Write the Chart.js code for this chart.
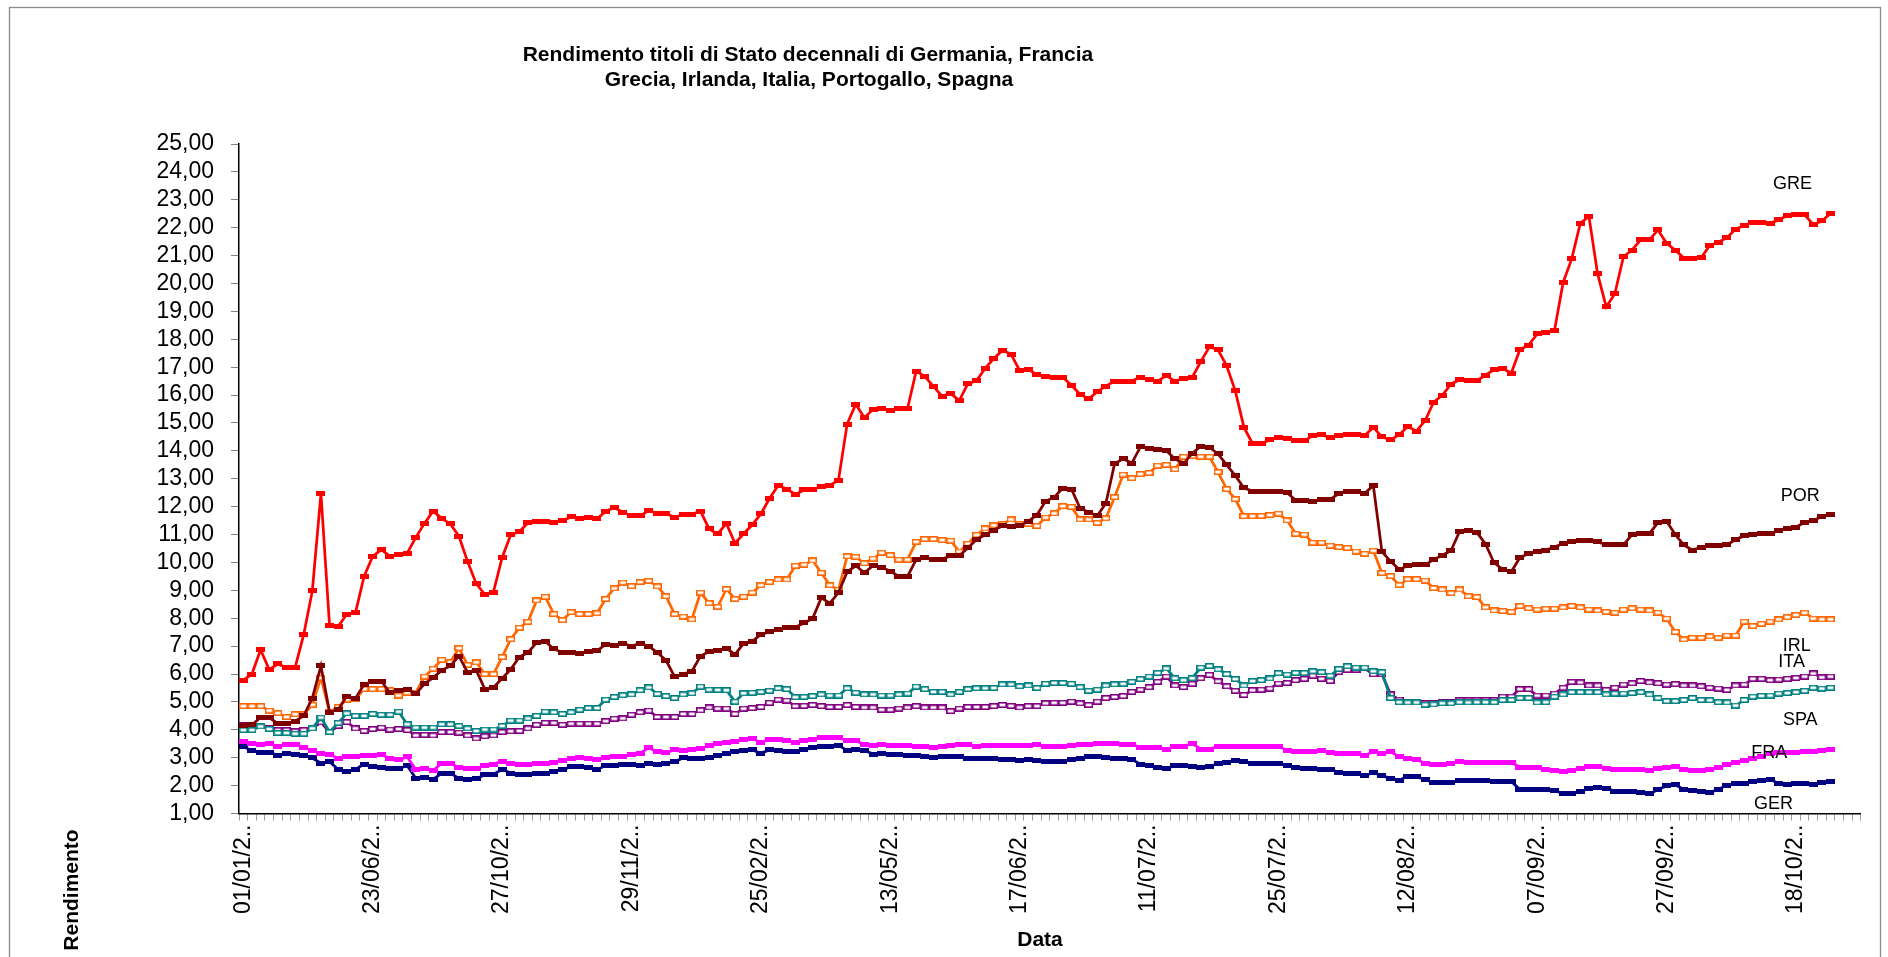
<!DOCTYPE html>
<html>
<head>
<meta charset="utf-8">
<title>Rendimento titoli di Stato decennali</title>
<script src="https://cdn.jsdelivr.net/npm/chart.js@4.4.1/dist/chart.umd.min.js"></script>
<style>
  html, body { margin: 0; padding: 0; background: #fff; }
  #chart-wrapper { width: 1888px; height: 957px; }
</style>
</head>
<body>
<div id="chart-wrapper"><canvas id="myChart" width="1888" height="957"></canvas></div>
<script>
// etichette dell'asse delle date (una ogni 15 osservazioni)
const tickLabels = ["01/01/2..", "23/06/2..", "27/10/2..", "29/11/2..", "25/02/2..", "13/05/2..",
  "17/06/2..", "11/07/2..", "25/07/2..", "12/08/2..", "07/09/2..", "27/09/2..", "18/10/2.."];
const labelStep = 15;
const categoryCount = 188;

const titleLines = ["Rendimento titoli di Stato decennali di Germania, Francia",
  "Grecia, Irlanda, Italia, Portogallo, Spagna"];

// rendimenti
const gre = [5.78, 6.0, 6.87, 6.16, 6.36, 6.23, 6.23, 7.41, 8.98, 12.47,
  7.73, 7.70, 8.15, 8.19, 9.5, 10.22, 10.46, 10.22, 10.3, 10.33,
  10.9, 11.4, 11.84, 11.58, 11.38, 10.94, 10.03, 9.24, 8.85, 8.94,
  10.17, 10.99, 11.1, 11.42, 11.48, 11.46, 11.42, 11.5, 11.63, 11.58,
  11.61, 11.56, 11.83, 11.97, 11.8, 11.67, 11.67, 11.86, 11.76, 11.76,
  11.61, 11.73, 11.73, 11.84, 11.2, 11.02, 11.4, 10.69, 11.03, 11.35,
  11.74, 12.29, 12.76, 12.63, 12.44, 12.6, 12.6, 12.73, 12.76, 12.95,
  14.96, 15.67, 15.19, 15.49, 15.51, 15.45, 15.51, 15.51, 16.86, 16.67,
  16.31, 15.96, 16.06, 15.8, 16.41, 16.51, 16.96, 17.31, 17.6, 17.47,
  16.88, 16.92, 16.73, 16.67, 16.64, 16.64, 16.35, 16.03, 15.86, 16.12,
  16.32, 16.5, 16.5, 16.5, 16.64, 16.57, 16.5, 16.7, 16.5, 16.6,
  16.63, 17.2, 17.73, 17.62, 17.05, 16.15, 14.85, 14.26, 14.26, 14.39,
  14.47, 14.44, 14.36, 14.36, 14.55, 14.58, 14.47, 14.55, 14.6, 14.6,
  14.55, 14.84, 14.5, 14.39, 14.58, 14.87, 14.71, 15.08, 15.75, 15.99,
  16.39, 16.55, 16.52, 16.52, 16.71, 16.91, 16.95, 16.79, 17.63, 17.79,
  18.19, 18.23, 18.31, 20.03, 20.88, 22.16, 22.4, 20.35, 19.16, 19.63,
  20.96, 21.2, 21.56, 21.56, 21.92, 21.44, 21.2, 20.91, 20.91, 20.92,
  21.36, 21.48, 21.64, 21.95, 22.08, 22.2, 22.2, 22.16, 22.28, 22.44,
  22.47, 22.47, 22.11, 22.24, 22.51];

const por = [4.16, 4.18, 4.44, 4.44, 4.22, 4.22, 4.31, 4.5, 5.14, 6.29,
  4.63, 4.73, 5.21, 5.12, 5.63, 5.74, 5.74, 5.33, 5.42, 5.46,
  5.29, 5.65, 5.87, 6.13, 6.29, 6.64, 6.06, 6.14, 5.46, 5.52,
  5.84, 6.17, 6.61, 6.77, 7.13, 7.17, 6.9, 6.77, 6.77, 6.72,
  6.81, 6.83, 7.06, 7.02, 7.1, 7.0, 7.1, 7.0, 6.77, 6.49,
  5.91, 6.0, 6.1, 6.64, 6.81, 6.83, 6.93, 6.7, 7.1, 7.17,
  7.42, 7.51, 7.61, 7.66, 7.68, 7.83, 7.99, 8.73, 8.54, 8.92,
  9.66, 9.88, 9.63, 9.88, 9.82, 9.69, 9.5, 9.5, 10.1, 10.18,
  10.11, 10.11, 10.24, 10.24, 10.52, 10.82, 10.99, 11.16, 11.31, 11.29,
  11.31, 11.48, 11.7, 12.19, 12.34, 12.66, 12.63, 11.95, 11.8, 11.67,
  12.12, 13.53, 13.72, 13.56, 14.14, 14.07, 14.04, 14.0, 13.72, 13.53,
  13.91, 14.17, 14.13, 13.89, 13.5, 13.11, 12.67, 12.56, 12.56, 12.56,
  12.56, 12.5, 12.23, 12.23, 12.2, 12.26, 12.26, 12.47, 12.55, 12.55,
  12.47, 12.76, 10.39, 10.04, 9.75, 9.88, 9.94, 9.91, 10.1, 10.26,
  10.42, 11.11, 11.16, 11.08, 10.66, 9.99, 9.75, 9.67, 10.18, 10.31,
  10.39, 10.44, 10.55, 10.68, 10.74, 10.79, 10.79, 10.74, 10.63, 10.63,
  10.63, 11.0, 11.03, 11.03, 11.43, 11.48, 11.0, 10.63, 10.44, 10.55,
  10.6, 10.6, 10.63, 10.82, 10.95, 11.0, 11.03, 11.03, 11.14, 11.22,
  11.27, 11.43, 11.51, 11.64, 11.72];

const irl = [4.85, 4.85, 4.85, 4.69, 4.6, 4.46, 4.56, 4.56, 4.9, 5.87,
  4.63, 4.82, 5.08, 5.1, 5.46, 5.46, 5.46, 5.42, 5.23, 5.33,
  5.33, 5.91, 6.19, 6.51, 6.42, 6.93, 6.33, 6.42, 6.0, 6.0,
  6.61, 7.25, 7.66, 7.87, 8.64, 8.77, 8.15, 7.93, 8.22, 8.15,
  8.15, 8.18, 8.69, 9.07, 9.28, 9.15, 9.3, 9.34, 9.14, 8.79,
  8.15, 8.06, 7.96, 8.92, 8.54, 8.41, 9.05, 8.69, 8.77, 8.92,
  9.18, 9.3, 9.39, 9.39, 9.88, 9.92, 10.07, 9.63, 9.18, 9.02,
  10.22, 10.2, 9.97, 10.14, 10.35, 10.26, 10.1, 10.1, 10.74, 10.84,
  10.84, 10.8, 10.78, 10.39, 10.67, 10.99, 11.22, 11.33, 11.38, 11.54,
  11.38, 11.38, 11.31, 11.61, 11.76, 12.02, 11.99, 11.54, 11.54, 11.42,
  11.58, 12.34, 13.15, 13.02, 13.17, 13.21, 13.47, 13.5, 13.34, 13.79,
  13.81, 13.79, 13.79, 13.24, 12.63, 12.27, 11.66, 11.66, 11.67, 11.7,
  11.75, 11.51, 11.03, 11.0, 10.71, 10.71, 10.6, 10.55, 10.52, 10.39,
  10.31, 10.42, 9.62, 9.51, 9.19, 9.4, 9.4, 9.35, 9.08, 9.03,
  8.9, 9.03, 8.79, 8.76, 8.39, 8.28, 8.26, 8.23, 8.44, 8.36,
  8.31, 8.34, 8.34, 8.39, 8.44, 8.39, 8.31, 8.28, 8.23, 8.2,
  8.31, 8.36, 8.31, 8.28, 8.2, 7.99, 7.51, 7.24, 7.3, 7.3,
  7.35, 7.3, 7.38, 7.38, 7.88, 7.72, 7.8, 7.88, 7.96, 8.04,
  8.12, 8.2, 7.99, 7.96, 7.96];

const ita = [4.16, 4.14, 4.12, 4.05, 3.99, 3.99, 3.95, 3.99, 4.05, 4.27,
  3.92, 4.14, 4.28, 4.05, 3.96, 4.03, 4.08, 4.01, 4.03, 3.99,
  3.8, 3.82, 3.8, 3.92, 3.92, 3.9, 3.8, 3.69, 3.77, 3.8,
  3.92, 3.95, 3.96, 4.05, 4.18, 4.25, 4.25, 4.18, 4.22, 4.22,
  4.22, 4.22, 4.31, 4.4, 4.41, 4.54, 4.63, 4.69, 4.46, 4.46,
  4.46, 4.57, 4.57, 4.7, 4.8, 4.76, 4.76, 4.57, 4.76, 4.78,
  4.82, 4.97, 5.08, 5.05, 4.85, 4.86, 4.89, 4.85, 4.82, 4.82,
  4.89, 4.82, 4.8, 4.8, 4.72, 4.72, 4.76, 4.8, 4.85, 4.8,
  4.8, 4.8, 4.67, 4.76, 4.82, 4.82, 4.82, 4.85, 4.89, 4.86,
  4.8, 4.85, 4.85, 4.95, 4.97, 4.97, 5.01, 4.95, 4.89, 5.01,
  5.14, 5.18, 5.21, 5.36, 5.44, 5.53, 5.72, 5.91, 5.59, 5.53,
  5.65, 5.85, 5.97, 5.74, 5.56, 5.4, 5.25, 5.42, 5.44, 5.48,
  5.66, 5.68, 5.78, 5.83, 5.94, 5.83, 5.75, 6.07, 6.15, 6.15,
  6.2, 5.99, 5.99, 5.27, 5.08, 4.99, 4.99, 4.95, 4.95, 4.98,
  4.98, 5.06, 5.06, 5.07, 5.07, 5.07, 5.19, 5.19, 5.46, 5.46,
  5.23, 5.23, 5.3, 5.51, 5.72, 5.7, 5.59, 5.59, 5.43, 5.51,
  5.62, 5.67, 5.75, 5.7, 5.67, 5.62, 5.64, 5.59, 5.59, 5.56,
  5.51, 5.48, 5.43, 5.59, 5.62, 5.83, 5.83, 5.78, 5.8, 5.83,
  5.86, 5.91, 6.02, 5.88, 5.91];

const spa = [3.99, 3.99, 4.12, 4.03, 3.89, 3.89, 3.86, 3.86, 4.05, 4.44,
  3.92, 4.25, 4.59, 4.5, 4.5, 4.57, 4.54, 4.54, 4.65, 4.2,
  4.08, 4.08, 4.08, 4.2, 4.2, 4.14, 4.05, 3.96, 4.01, 4.01,
  4.14, 4.33, 4.33, 4.41, 4.5, 4.65, 4.63, 4.57, 4.63, 4.72,
  4.78, 4.78, 5.08, 5.18, 5.24, 5.27, 5.42, 5.52, 5.29, 5.21,
  5.14, 5.27, 5.31, 5.55, 5.44, 5.43, 5.42, 5.01, 5.31, 5.33,
  5.36, 5.4, 5.49, 5.46, 5.17, 5.18, 5.21, 5.27, 5.23, 5.23,
  5.49, 5.33, 5.27, 5.27, 5.23, 5.23, 5.27, 5.3, 5.55, 5.46,
  5.36, 5.36, 5.27, 5.36, 5.46, 5.49, 5.49, 5.5, 5.63, 5.63,
  5.56, 5.59, 5.5, 5.65, 5.68, 5.68, 5.65, 5.53, 5.4, 5.44,
  5.59, 5.63, 5.65, 5.72, 5.82, 5.91, 6.04, 6.2, 5.85, 5.78,
  5.85, 6.23, 6.29, 6.17, 6.0, 5.82, 5.59, 5.75, 5.78, 5.84,
  6.03, 5.98, 6.04, 6.04, 6.1, 6.07, 5.94, 6.18, 6.28, 6.23,
  6.23, 6.1, 6.07, 5.14, 4.99, 4.98, 4.98, 4.9, 4.91, 4.95,
  4.95, 4.99, 4.98, 4.99, 4.99, 4.99, 5.07, 5.07, 5.14, 5.14,
  4.98, 4.99, 5.19, 5.27, 5.35, 5.35, 5.35, 5.35, 5.27, 5.3,
  5.3, 5.32, 5.35, 5.27, 5.14, 5.03, 5.03, 5.07, 5.14, 5.07,
  5.06, 4.99, 4.98, 4.87, 5.07, 5.19, 5.22, 5.23, 5.3, 5.32,
  5.35, 5.4, 5.51, 5.48, 5.51];

const fra = [3.58, 3.5, 3.48, 3.5, 3.41, 3.48, 3.48, 3.37, 3.26, 3.16,
  3.13, 2.96, 3.05, 3.03, 3.09, 3.09, 3.12, 2.96, 2.92, 3.03,
  2.58, 2.62, 2.54, 2.8, 2.8, 2.64, 2.62, 2.61, 2.73, 2.77,
  2.88, 2.81, 2.75, 2.77, 2.81, 2.81, 2.84, 2.9, 2.96, 2.99,
  2.96, 2.94, 3.0, 3.03, 3.05, 3.12, 3.16, 3.35, 3.22, 3.18,
  3.28, 3.26, 3.31, 3.33, 3.43, 3.5, 3.54, 3.58, 3.64, 3.69,
  3.54, 3.67, 3.64, 3.6, 3.54, 3.63, 3.67, 3.73, 3.73, 3.73,
  3.6, 3.6, 3.48, 3.45, 3.48, 3.45, 3.45, 3.44, 3.41, 3.41,
  3.35, 3.41, 3.44, 3.48, 3.48, 3.41, 3.44, 3.44, 3.44, 3.44,
  3.44, 3.44, 3.48, 3.41, 3.41, 3.41, 3.44, 3.48, 3.48, 3.5,
  3.5, 3.51, 3.48, 3.48, 3.37, 3.35, 3.35, 3.28, 3.41, 3.41,
  3.51, 3.31, 3.31, 3.41, 3.41, 3.41, 3.41, 3.39, 3.39, 3.41,
  3.4, 3.27, 3.23, 3.23, 3.23, 3.27, 3.19, 3.15, 3.15, 3.15,
  3.07, 3.22, 3.15, 3.22, 3.03, 2.98, 2.95, 2.79, 2.74, 2.74,
  2.79, 2.87, 2.82, 2.82, 2.83, 2.82, 2.82, 2.83, 2.66, 2.66,
  2.66, 2.58, 2.55, 2.5, 2.55, 2.63, 2.67, 2.7, 2.63, 2.58,
  2.58, 2.59, 2.59, 2.55, 2.63, 2.66, 2.7, 2.58, 2.55, 2.55,
  2.58, 2.66, 2.74, 2.82, 2.9, 2.98, 3.06, 3.15, 3.19, 3.19,
  3.19, 3.22, 3.23, 3.27, 3.3];

const ger = [3.39, 3.26, 3.2, 3.2, 3.09, 3.16, 3.13, 3.09, 2.99, 2.8,
  2.86, 2.58, 2.52, 2.58, 2.77, 2.67, 2.64, 2.61, 2.61, 2.71,
  2.26, 2.3, 2.22, 2.45, 2.45, 2.26, 2.22, 2.24, 2.39, 2.41,
  2.58, 2.45, 2.39, 2.39, 2.43, 2.43, 2.52, 2.58, 2.67, 2.67,
  2.64, 2.58, 2.71, 2.71, 2.77, 2.75, 2.71, 2.8, 2.77, 2.8,
  2.86, 2.99, 2.96, 2.98, 3.02, 3.07, 3.15, 3.22, 3.25, 3.28,
  3.16, 3.28, 3.26, 3.22, 3.22, 3.28, 3.35, 3.41, 3.41, 3.44,
  3.26, 3.28, 3.26, 3.13, 3.16, 3.13, 3.13, 3.09, 3.07, 3.03,
  2.99, 3.05, 3.05, 3.05, 2.96, 2.96, 2.96, 2.96, 2.93, 2.93,
  2.9, 2.93, 2.9, 2.88, 2.88, 2.88, 2.93, 2.96, 3.03, 3.03,
  2.99, 2.96, 2.96, 2.94, 2.77, 2.71, 2.64, 2.62, 2.71, 2.71,
  2.67, 2.64, 2.67, 2.8, 2.84, 2.9, 2.87, 2.81, 2.81, 2.8,
  2.78, 2.73, 2.66, 2.63, 2.63, 2.59, 2.59, 2.47, 2.42, 2.42,
  2.35, 2.47, 2.35, 2.27, 2.19, 2.34, 2.31, 2.23, 2.11, 2.11,
  2.11, 2.18, 2.19, 2.18, 2.19, 2.15, 2.15, 2.15, 1.86, 1.86,
  1.87, 1.86, 1.83, 1.71, 1.7, 1.78, 1.91, 1.94, 1.91, 1.8,
  1.78, 1.78, 1.75, 1.7, 1.86, 1.99, 2.03, 1.86, 1.83, 1.8,
  1.75, 1.86, 2.02, 2.07, 2.07, 2.15, 2.18, 2.23, 2.07, 2.03,
  2.07, 2.07, 2.03, 2.11, 2.15];

const fontFamily = "'Liberation Sans', Arial, sans-serif";

//build the category axis: label every 15 points, blank otherwise
const categories = [];
for (let i = 0; i < categoryCount; i++) {
  const label = i % labelStep === 0 ? tickLabels[i / labelStep] : undefined;
  categories.push(label || "");
}

//marker images: filled dash or hollow box
const dashMarker = (color) => {
  const c = document.createElement("canvas");
  c.width = 9;
  c.height = 5;
  const cx = c.getContext("2d");
  cx.fillStyle = color;
  cx.fillRect(0, 0, 9, 5);
  return c;
};
const boxMarker = (color) => {
  const c = document.createElement("canvas");
  c.width = 9;
  c.height = 6;
  const cx = c.getContext("2d");
  cx.fillStyle = "#ffffff";
  cx.fillRect(0, 0, 9, 6);
  cx.strokeStyle = color;
  cx.lineWidth = 1.6;
  cx.strokeRect(0.8, 0.8, 7.4, 4.4);
  return c;
};

const makeSeries = (label, data, color, marker) => ({
  label,
  data,
  borderColor: color,
  backgroundColor: color,
  borderWidth: 2.75,
  tension: 0,
  pointStyle: marker(color),
  pointRadius: 4,
  spanGaps: false,
});

//series tags written beside the lines
const seriesTags = [
  { text: "GRE", at: 179.6, value: 23.55 },
  { text: "POR", at: 180.5, value: 12.39 },
  { text: "IRL", at: 180.1, value: 7.0 },
  { text: "ITA", at: 179.5, value: 6.42 },
  { text: "SPA", at: 180.5, value: 4.34 },
  { text: "FRA", at: 176.9, value: 3.15 },
  { text: "GER", at: 177.4, value: 1.33 },
];

const decorations = {
  id: "decorations",
  afterDraw(chart) {
    const { ctx, scales } = chart;
    ctx.save();
    //grey frame
    ctx.strokeStyle = "#8a8a8a";
    ctx.lineWidth = 1.3;
    ctx.strokeRect(9.5, 7.5, 1871, 1000);
    //title
    ctx.fillStyle = "#000";
    ctx.textAlign = "center";
    ctx.textBaseline = "middle";
    ctx.font = `bold 21px ${fontFamily}`;
    ctx.fillText(titleLines[0], 808, 55);
    ctx.fillText(titleLines[1], 809, 80);
    //axis titles
    ctx.fillText("Data", 1040, 940);
    ctx.save();
    ctx.translate(72, 890);
    ctx.rotate(-Math.PI / 2);
    ctx.fillText("Rendimento", 0, 0);
    ctx.restore();
    //series tags
    ctx.font = `18px ${fontFamily}`;
    seriesTags.forEach((tag) => {
      const x = scales.x.getPixelForValue(tag.at);
      const y = scales.y.getPixelForValue(tag.value);
      ctx.fillText(tag.text, x, y);
    });
    ctx.restore();
  },
};

const ctx = document.getElementById("myChart");
const myChart = new Chart(ctx, {
  type: "line",
  data: {
    labels: categories,
    datasets: [
      makeSeries("GRE", gre, "#ff0000", dashMarker),
      makeSeries("POR", por, "#800000", dashMarker),
      makeSeries("IRL", irl, "#ff6600", boxMarker),
      makeSeries("SPA", spa, "#008080", boxMarker),
      makeSeries("ITA", ita, "#800080", boxMarker),
      makeSeries("FRA", fra, "#ff00ff", dashMarker),
      makeSeries("GER", ger, "#000080", dashMarker),
    ],
  },
  options: {
    responsive: false,
    devicePixelRatio: 1,
    animation: false,
    events: [],
    layout: { padding: { top: 144, right: 16, bottom: 0, left: 0 } },
    plugins: {
      legend: { display: false },
      title: { display: false },
      tooltip: { enabled: false },
    },
    scales: {
      x: {
        type: "category",
        offset: true,
        afterFit: (scale) => {
          scale.height = 143.5;
        },
        border: { display: true, color: "#000", width: 1.5 },
        grid: {
          display: true,
          drawOnChartArea: false,
          drawTicks: true,
          offset: true,
          tickLength: 7,
          color: "#9a9a9a",
          lineWidth: 1,
        },
        ticks: {
          autoSkip: false,
          maxRotation: 90,
          minRotation: 90,
          padding: 4,
          color: "#000",
          font: { family: fontFamily, size: 23 },
        },
      },
      y: {
        min: 1,
        max: 25,
        afterFit: (scale) => {
          scale.width = 239;
        },
        border: { display: true, color: "#000", width: 1.5 },
        grid: {
          display: true,
          drawOnChartArea: false,
          drawTicks: true,
          tickLength: 8,
          color: "#808080",
          lineWidth: 1,
        },
        ticks: {
          autoSkip: false,
          stepSize: 1,
          padding: 17,
          color: "#000",
          font: { family: fontFamily, size: 23 },
          callback: (value) => value.toFixed(2).replace(".", ","),
        },
      },
    },
  },
  plugins: [decorations],
});
</script>
</body>
</html>
